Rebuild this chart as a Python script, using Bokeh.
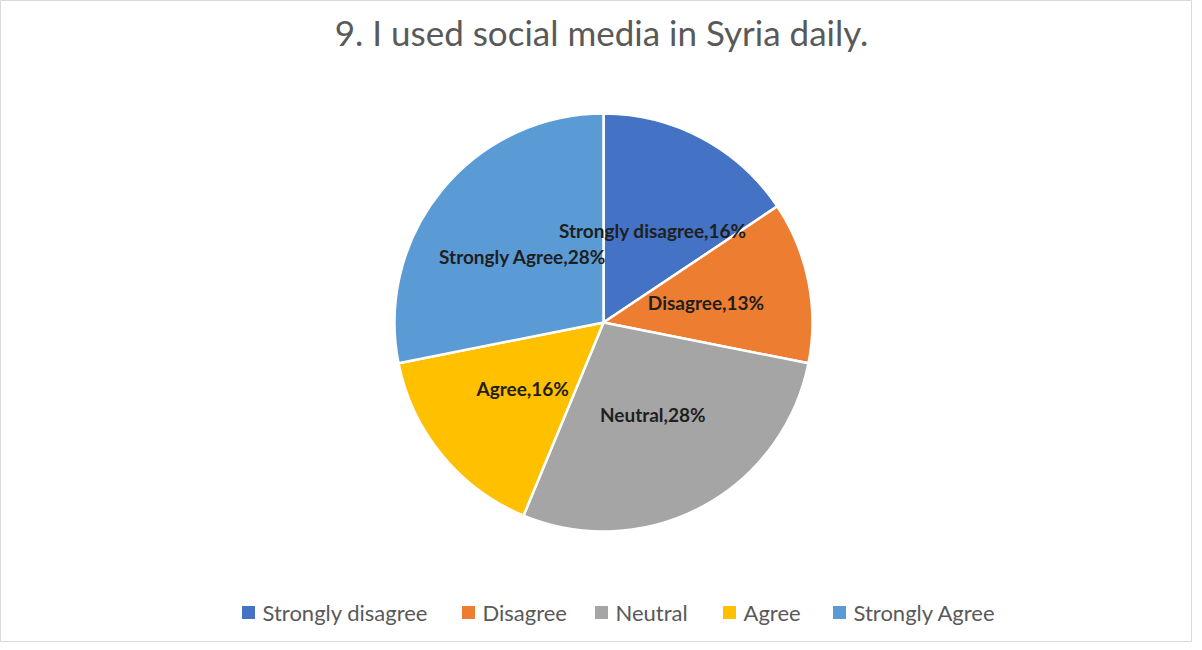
import math
from bokeh.plotting import figure
from bokeh.models import Range1d, ColumnDataSource
from bokeh.core.properties import value
from bokeh.embed import file_html
from bokeh.resources import INLINE

# ---- data ----
title_text = "9. I used social media in Syria daily."
categories = ["Strongly disagree", "Disagree", "Neutral", "Agree", "Strongly Agree"]
counts = [5, 4, 9, 5, 9]
colors = ["#4472C4", "#ED7D31", "#A5A5A5", "#FFC000", "#5B9BD5"]

# ---- layout (screen pixel space; data y = 650 - screen y) ----
W, H = 1192, 642
CX, CY = 603, 650 - 322
R = 209
legend_text_x = [262, 482, 615, 743, 853]
legend_y = 650 - 612

p = figure(width=W, height=H, output_backend="svg", toolbar_location=None,
           x_range=Range1d(0, W), y_range=Range1d(650 - H, 650),
           min_border=0, outline_line_color="#d9d9d9", outline_line_width=1,
           background_fill_color="white", border_fill_color="white")
p.axis.visible = False
p.grid.visible = False

total = sum(counts)
starts, ends, lx, ly, labels = [], [], [], [], []
cum = 0
for c, n in zip(categories, counts):
    a0 = math.pi / 2 - 2 * math.pi * cum / total
    cum += n
    a1 = math.pi / 2 - 2 * math.pi * cum / total
    starts.append(a0)
    ends.append(a1)
    mid = (a0 + a1) / 2
    lx.append(CX + 0.5 * R * math.cos(mid))
    ly.append(CY + 0.5 * R * math.sin(mid))
    pct = int(n / total * 100 + 0.5)
    labels.append(f"{c},{pct}%")

src = ColumnDataSource(dict(cat=categories, start=starts, end=ends, color=colors,
                            lx=lx, ly=ly, label=labels))

p.wedge(x=CX, y=CY, radius=R, start_angle="start", end_angle="end",
        direction="clock", fill_color="color", line_color="white",
        line_width=2.5, source=src)

p.text(x="lx", y="ly", text="label", source=src, text_align="center",
       text_baseline="middle", text_font=value("Lato"), text_font_style="bold",
       text_font_size="19px", text_color="#1f1f1f")

p.text(x=[601], y=[650 - 31], text=[title_text], text_align="center",
       text_baseline="middle", text_font=value("Lato"), text_font_size="35px",
       text_color="#595959")

# legend (drawn manually)
leg = ColumnDataSource(dict(tx=legend_text_x,
                            sx=[x - 14 for x in legend_text_x],
                            y=[legend_y] * len(categories),
                            label=categories, color=colors))
p.rect(x="sx", y="y", width=13, height=13, fill_color="color", line_color=None,
       source=leg)
p.text(x="tx", y="y", text="label", source=leg, text_align="left",
       text_baseline="middle", text_font=value("Lato"), text_font_size="22px",
       text_color="#595959")

open("out.html", "w").write(file_html(p, INLINE))
